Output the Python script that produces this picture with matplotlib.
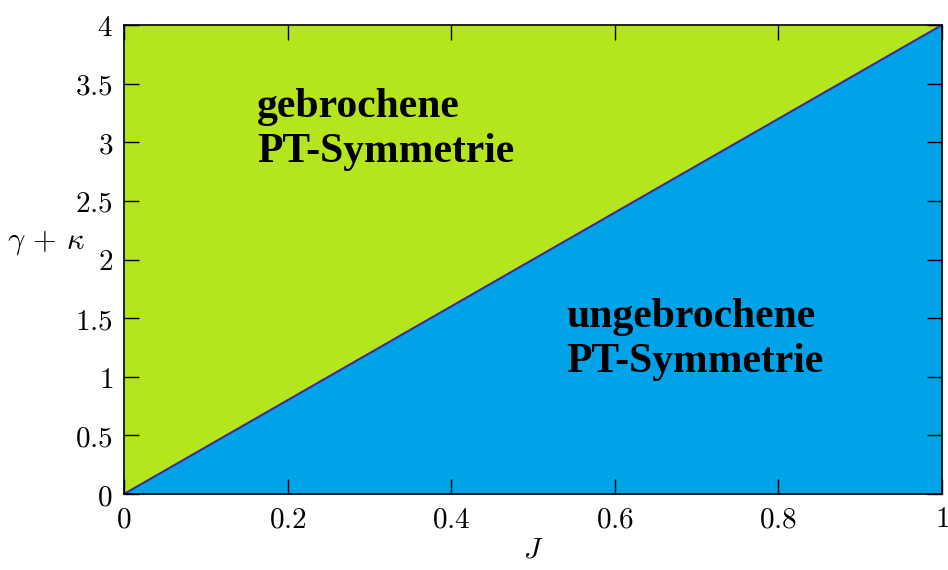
import numpy as np
import matplotlib.pyplot as plt

# phase boundary gamma + kappa = 4 J
j_vals = [0.0, 1.0]
boundary = [0.0, 4.0]
y_max = 4.0

x_ticks = [0, 0.2, 0.4, 0.6, 0.8, 1]
x_labels = ["0", "0.2", "0.4", "0.6", "0.8", "1"]
y_ticks = [0, 0.5, 1, 1.5, 2, 2.5, 3, 3.5, 4]
y_labels = ["0", "0.5", "1", "1.5", "2", "2.5", "3", "3.5", "4"]

green = "#b5e61d"
blue = "#00a2e8"

plt.rcParams["mathtext.fontset"] = "cm"

fig = plt.figure(figsize=(9.48, 5.70), dpi=100)
ax = fig.add_axes([124 / 948, 76 / 570, 818 / 948, 469 / 570])

ax.fill_between(j_vals, boundary, y_max, color=green, linewidth=0)
ax.fill_between(j_vals, 0, boundary, color=blue, linewidth=0)
ax.plot(j_vals, boundary, color="#3a2a9a", linewidth=1.5)

ax.set_xlim(0, 1)
ax.set_ylim(0, 4)
ax.set_xticks(x_ticks)
ax.set_xticklabels(["$" + s + "$" for s in x_labels], fontsize=21)
ax.set_yticks(y_ticks)
ax.set_yticklabels(["$" + s + "$" for s in y_labels], fontsize=21)
ax.tick_params(direction="in", length=11, width=1, top=True, right=True, pad=8)
for sp in ax.spines.values():
    sp.set_linewidth(1.2)

ax.set_xlabel("$J$", fontsize=21, labelpad=2)
ax.set_ylabel(r"$\gamma\, +\, \kappa$", fontsize=22, rotation=0, labelpad=0)
ax.yaxis.set_label_coords(-0.096, 0.505)

ax.text(0.163, 3.46, "gebrochene\nPT-Symmetrie", fontsize=30, fontweight="bold",
        family="Liberation Serif", va="top", ha="left", linespacing=1.22)
ax.text(0.541, 1.67, "ungebrochene\nPT-Symmetrie", fontsize=30, fontweight="bold",
        family="Liberation Serif", va="top", ha="left", linespacing=1.22)

fig.savefig("out.png", dpi=100)
